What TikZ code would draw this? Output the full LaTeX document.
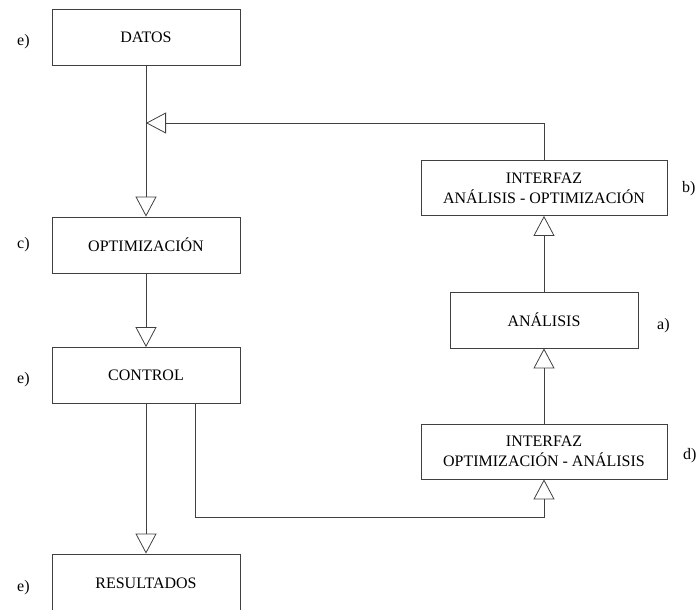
\documentclass[tikz,border=0pt]{standalone}
\usepackage{fontspec}
\setmainfont{Liberation Serif}
\usetikzlibrary{arrows.meta,positioning}

\begin{document}
\begin{tikzpicture}[
  x=1pt, y=-1pt,
  caja/.style={draw=black!75, line width=0.8pt, align=center,
               minimum width=188pt, minimum height=56pt, inner sep=0pt,
               font=\fontsize{16}{20}\selectfont},
  interfaz/.style={caja, minimum width=246pt, minimum height=55pt},
  etiq/.style={font=\fontsize{16}{20}\selectfont, anchor=west, inner sep=0pt},
  flecha/.style={-{Triangle[open, length=20pt, width=21pt]}, draw=black!75, line width=0.8pt}
]
\useasboundingbox (0,0) rectangle (696,610);
% columna izquierda
\node[caja] (datos) at (146,37) {DATOS};
\node[caja] (optim) at (146,245) {OPTIMIZACIÓN};
\node[caja] (control) at (146,375.5) {CONTROL};
\node[caja, minimum height=58pt] (result) at (146,583) {RESULTADOS};
% columna derecha
\node[interfaz] (intAO) at (544,188) {INTERFAZ\\ANÁLISIS - OPTIMIZACIÓN};
\node[caja] (analisis) at (544,320) {ANÁLISIS};
\node[interfaz] (intOA) at (544,451.5) {INTERFAZ\\OPTIMIZACIÓN - ANÁLISIS};
% etiquetas
\node[etiq] (le1) at (17,42) {e)};
\node[etiq] (lc) at (17,245) {c)};
\node[etiq] (le2) at (17,380) {e)};
\node[etiq] (le3) at (17,588) {e)};
\node[etiq] (lb) at (682,189) {b)};
\node[etiq] (la) at (657,326) {a)};
\node[etiq] (ld) at (683,456) {d)};
% conectores
\coordinate (junta) at (146,123);
\coordinate (codo) at (195,517);
\draw[flecha] (datos) -- (optim);
\draw[flecha] (intAO.north) |- (junta);
\draw[flecha] (optim) -- (control);
\draw[flecha] (control) -- (result);
\draw[flecha] (analisis) -- (intAO);
\draw[flecha] (intOA) -- (analisis);
\draw[flecha] (control.south -| codo) -- (codo) -| (intOA.south);
\end{tikzpicture}
\end{document}
